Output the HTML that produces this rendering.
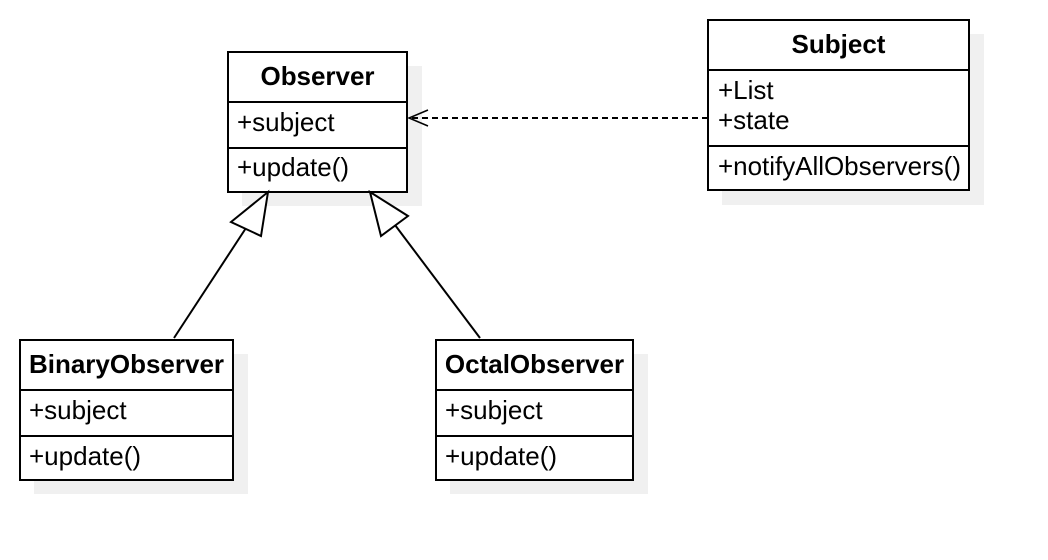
<!DOCTYPE html>
<html><head><style>body{margin:0;background:#fff}svg{display:block}</style></head><body>
<svg width="1048" height="560" xmlns="http://www.w3.org/2000/svg" font-family="Liberation Sans, sans-serif" font-size="26">
<g fill="#f0f0f0">
<rect x="242" y="66" width="180" height="140"/>
<rect x="722" y="34" width="262" height="171"/>
<rect x="34" y="354" width="214" height="140"/>
<rect x="450" y="354" width="198" height="140"/>
</g>
<g fill="#fff" stroke="#000" stroke-width="2">
<rect x="228" y="52" width="179" height="140"/>
<line x1="228" y1="102" x2="407" y2="102"/><line x1="228" y1="148" x2="407" y2="148"/>
<rect x="708" y="20" width="261" height="170"/>
<line x1="708" y1="70" x2="969" y2="70"/><line x1="708" y1="146" x2="969" y2="146"/>
<rect x="20" y="340" width="213" height="140"/>
<line x1="20" y1="390" x2="233" y2="390"/><line x1="20" y1="436" x2="233" y2="436"/>
<rect x="436" y="340" width="197" height="140"/>
<line x1="436" y1="390" x2="633" y2="390"/><line x1="436" y1="436" x2="633" y2="436"/>
</g>
<g stroke="#000" stroke-width="2" fill="none">
<line x1="174" y1="338" x2="246" y2="228"/>
<line x1="480" y1="338" x2="395" y2="225"/>
<polygon points="268,192 261,236 231,222" fill="#fff"/>
<polygon points="370,192 408,216 381,236" fill="#fff"/>
<line x1="708" y1="118" x2="410" y2="118" stroke-dasharray="6,4"/>
<polyline points="428,110 409,118 428,126" stroke-width="1.5"/>
</g>
<g fill="#000">
<text x="317.5" y="85" font-weight="bold" text-anchor="middle" textLength="114">Observer</text>
<text x="237" y="131">+subject</text>
<text x="237" y="176">+update()</text>
<text x="838.5" y="53" font-weight="bold" text-anchor="middle">Subject</text>
<text x="718" y="99">+List</text>
<text x="718" y="129">+state</text>
<text x="718" y="175" textLength="243">+notifyAllObservers()</text>
<text x="126.5" y="373" font-weight="bold" text-anchor="middle">BinaryObserver</text>
<text x="29" y="419">+subject</text>
<text x="29" y="465">+update()</text>
<text x="534.5" y="373" font-weight="bold" text-anchor="middle">OctalObserver</text>
<text x="445" y="419">+subject</text>
<text x="445" y="465">+update()</text>
</g>
</svg>
</body></html>
